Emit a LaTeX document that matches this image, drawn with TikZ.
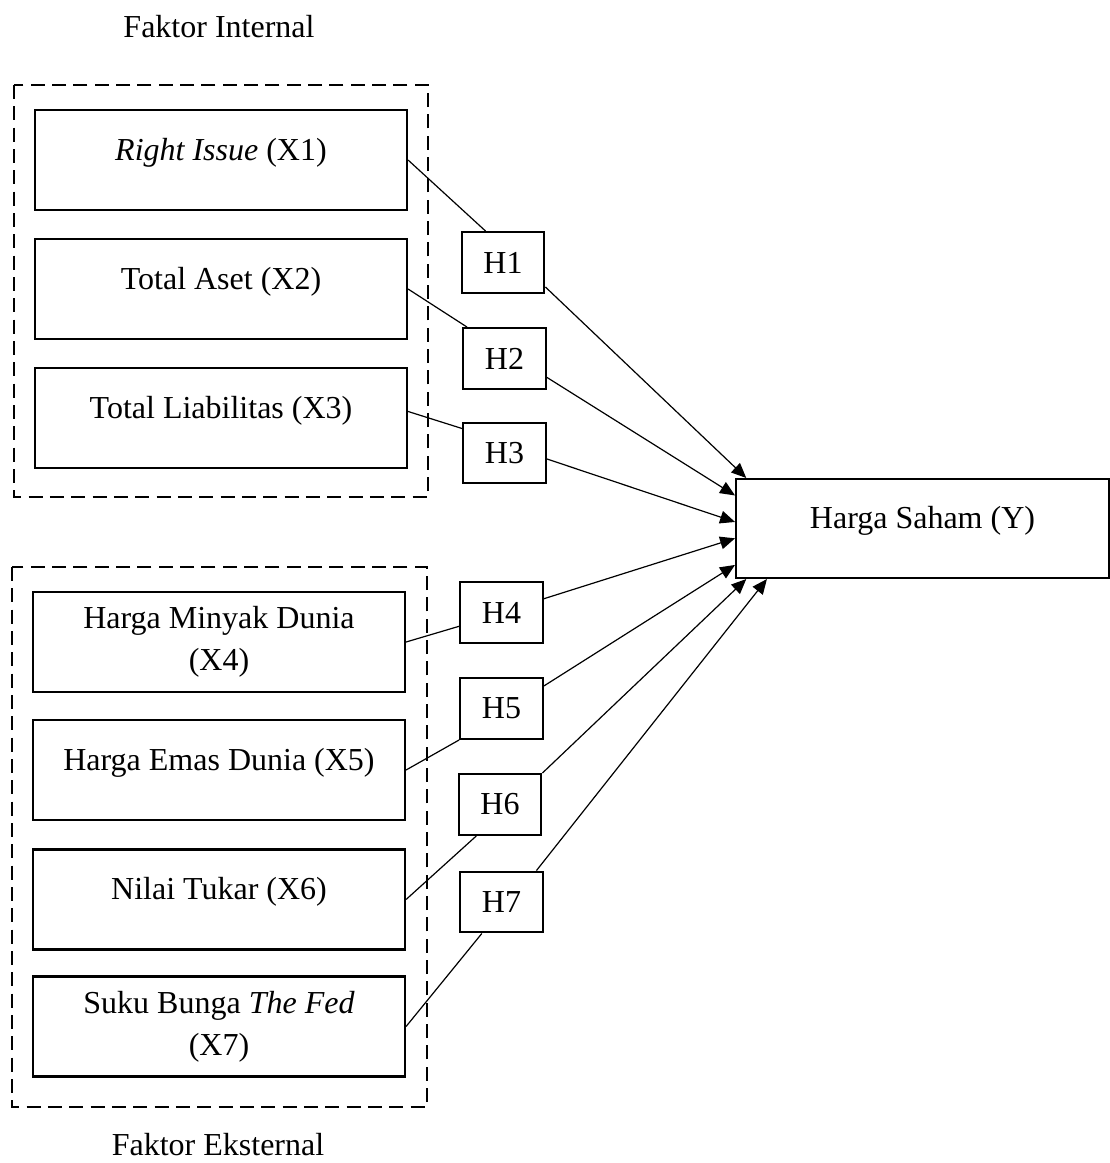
\documentclass[tikz,border=0pt]{standalone}
\usepackage{fontspec}
\setmainfont{Liberation Serif}
\usetikzlibrary{arrows.meta}

\tikzset{
  varbox/.style={draw, line width=0.8pt, minimum width=139.5pt, minimum height=37.5pt, align=center},
  oneline/.style={text height=8pt, text depth=8pt},
  hypbox/.style={draw, line width=0.8pt, minimum width=31pt, minimum height=22.8pt},
  groupbox/.style={line width=0.8pt, dash pattern=on 5.2pt off 2.8pt},
  link/.style={line width=0.45pt},
  effect/.style={line width=0.45pt, -{Triangle[length=5.6pt, width=4.8pt]}}
}

\begin{document}
\begin{tikzpicture}[x=0.375pt, y=-0.375pt, font=\fontsize{12}{15.6}\selectfont]
    \useasboundingbox (0,0) rectangle (1110,1163);

    % internal and external groups
    \draw[groupbox] (14,85) rectangle (428,497);
    \draw[groupbox] (12,567) rectangle (427,1107);
    \node[anchor=base] (intlabel) at (219,37) {Faktor Internal};
    \node[anchor=base] (extlabel) at (218,1155) {Faktor Eksternal};

    \node[varbox, oneline] (x1) at (221,160) {\textit{Right Issue} (X1)};
    \node[varbox, oneline] (x2) at (221,289) {Total Aset (X2)};
    \node[varbox, oneline] (x3) at (221,418) {Total Liabilitas (X3)};
    \node[varbox] (x4) at (219,642) {Harga Minyak Dunia\\(X4)};
    \node[varbox, oneline] (x5) at (219,770) {Harga Emas Dunia (X5)};
    \node[varbox, oneline] (x6) at (219,899.5) {Nilai Tukar (X6)};
    \node[varbox] (x7) at (219,1026.5) {Suku Bunga \textit{The Fed}\\(X7)};

    \node[hypbox] (h1) at (503,262.5) {H1};
    \node[hypbox] (h2) at (504.5,358.5) {H2};
    \node[hypbox] (h3) at (504.5,453) {H3};
    \node[hypbox] (h4) at (501.5,612.5) {H4};
    \node[hypbox] (h5) at (501.5,708.5) {H5};
    \node[hypbox] (h6) at (500,804.5) {H6};
    \node[hypbox] (h7) at (501.5,902) {H7};

    \node[varbox, oneline, minimum width=139.8pt, minimum height=37.1pt] (y) at (922.5,528.5) {Harga Saham (Y)};

    \draw[link] (x1.east) -- (h1.119);
    \draw[link] (x2.east) -- (h2.140);
    \draw[link] (x3.2) -- (h3.150);
    \draw[link] (x4.east) -- (h4.198);
    \draw[link] (x5.east) -- (h5.south west);
    \draw[link] (x6.east) -- (h6.233);
    \draw[link] (x7.east) -- (h7.238);

    \draw[effect] (h1.330) -- (y.164);
    \draw[effect] (h2.336) -- (y.170);
    \draw[effect] (h3.352) -- (y.178);
    \draw[effect] (h4.18) -- (y.183);
    \draw[effect] (h5.28) -- (y.191);
    \draw[effect] (h6.north east) -- (y.196);
    \draw[effect] (h7.42) -- (y.198);
\end{tikzpicture}
\end{document}
